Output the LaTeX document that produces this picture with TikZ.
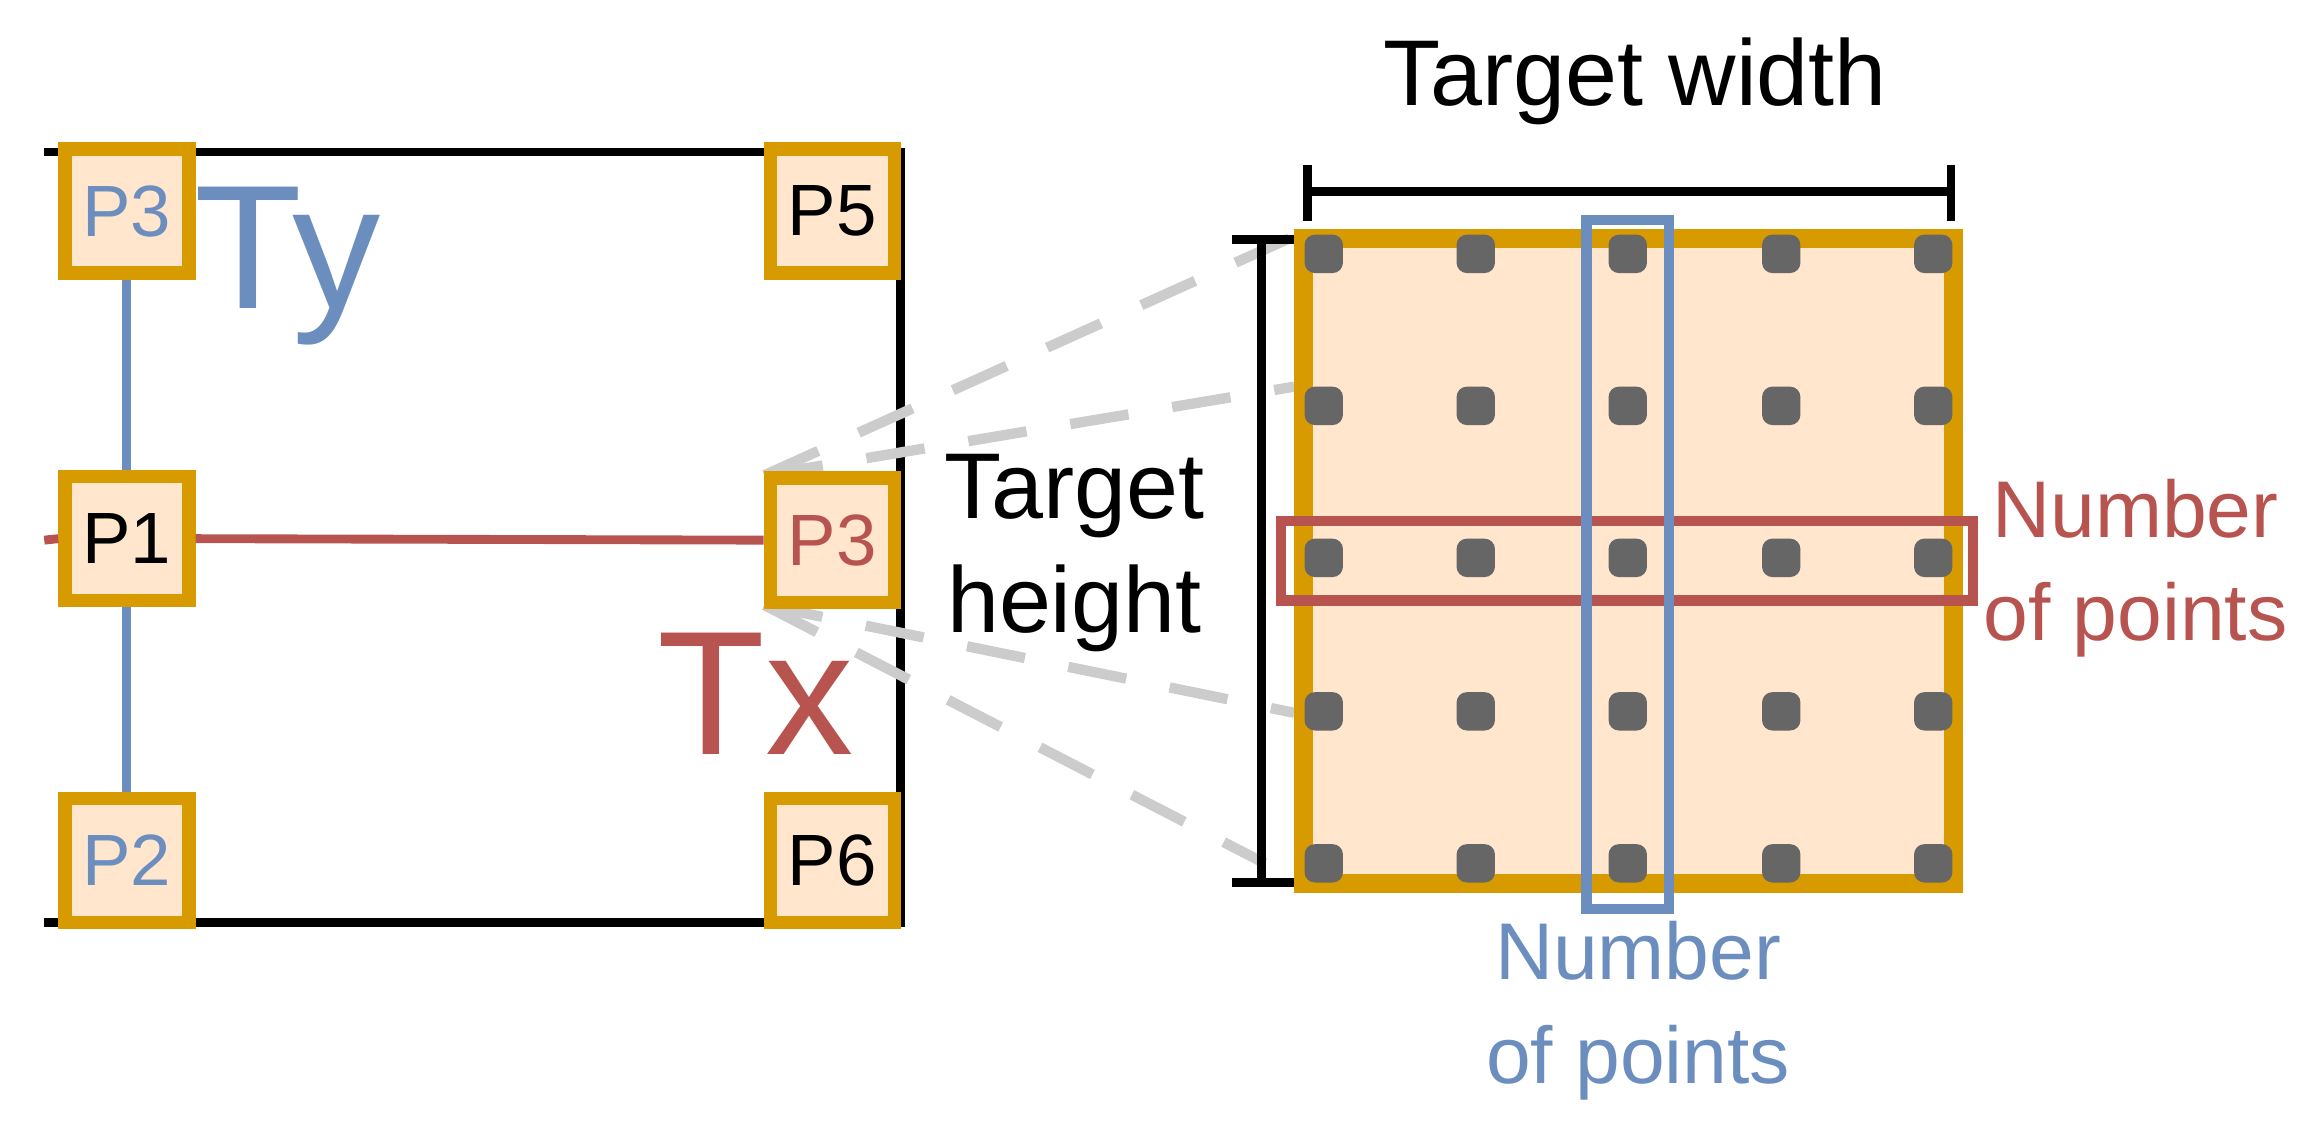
\documentclass[tikz,border=0pt]{standalone}
\usepackage{fontspec}
\setmainfont{Liberation Sans}
\usetikzlibrary{positioning}
\definecolor{ptorange}{HTML}{D79B00}
\definecolor{ptfill}{HTML}{FFE6CC}
\definecolor{tyblue}{HTML}{6C8EBF}
\definecolor{txred}{HTML}{B85450}
\definecolor{dotgray}{HTML}{666666}
\definecolor{dashgray}{HTML}{CCCCCC}
\begin{document}
\begin{tikzpicture}[x=0.01cm, y=-0.01cm,
pt/.style={rectangle,draw=ptorange,fill=ptfill,line width=0.9mm,inner sep=0pt,minimum size=8.4mm,font=\fontsize{14}{14}\selectfont},
frame/.style={line width=0.6mm, black},
dot/.style={rectangle,rounded corners=0.7mm,fill=dotgray,inner sep=0pt,minimum size=2.6mm},
guide/.style={line width=0.7mm, dashgray, dash pattern=on 4mm off 3mm},
scan/.style={line width=0.6mm},
lbl/.style={font=\fontsize{18}{22}\selectfont,align=center},
cnt/.style={font=\fontsize{15.5}{20}\selectfont,align=center}
]
\useasboundingbox (0,0) rectangle (1568,772);
%frame of the left block
\draw[frame] (30,103) -- (610,103) -- (610,625) -- (30,625);

%zoom corners
\coordinate (c1) at (877,160);
\coordinate (c2) at (877,262);
\coordinate (c3) at (877,483);
\coordinate (c4) at (857,585);
\coordinate (g1) at (518,322);
\coordinate (g2) at (518,410);

%zoom guides
\draw[guide] (g1) -- (c1);
\draw[guide] (g1) -- (c2);
\draw[guide] (g2) -- (c3);
\draw[guide] (g2) -- (c4);

%sample points
\node[pt, text=tyblue] (p3t) at (86,143) {P3};
\node[pt] (p1) at (86,365) {P1};
\node[pt, text=tyblue] (p2) at (86,583) {P2};
\node[pt] (p5) at (564,143) {P5};
\node[pt, text=txred] (p3r) at (564,366) {P3};
\node[pt] (p6) at (564,583) {P6};
\coordinate (redin) at (30,366);

%scan lines
\draw[scan, txred] (redin) -- (p1.west);
\draw[scan, txred] (p1.east) -- (p3r.west);
\draw[scan, tyblue] (p3t) -- (p1);
\draw[scan, tyblue] (p1) -- (p2);

\node[font=\fontsize{34}{34}\selectfont, text=tyblue] (ty) at (195,180) {Ty};
\node[font=\fontsize{34}{34}\selectfont, text=txred] (tx) at (512,470) {Tx};

%target grid
\node[rectangle,draw=ptorange,fill=ptfill,line width=1.3mm,minimum width=4.4cm,minimum height=4.37cm,inner sep=0pt] (tgt) at (1103.5,380) {};

\foreach \x [count=\i] in {897,1000,1103,1207,1310}
  \foreach \y [count=\j] in {172,275,378,482,585}
    \node[dot] (d\i\j) at (\x,\y) {};

\draw[txred, line width=0.7mm] (868,353) rectangle (1337,407);
\draw[tyblue, line width=0.7mm] (1075,149) rectangle (1131,616);

%dimension bars
\coordinate (wl) at (886,130);
\coordinate (wr) at (1322,130);
\draw[frame] (wl) -- (wr);
\draw[frame] (886,112) -- (886,150);
\draw[frame] (1322,112) -- (1322,150);
\coordinate (ht) at (855,162);
\coordinate (hb) at (855,598);
\draw[frame] (ht) -- (hb);
\draw[frame] (835,162) -- (877,162);
\draw[frame] (835,598) -- (877,598);

\node[lbl] (tw) at (1108,55) {Target width};
\node[lbl] (th) at (728,375) {Target\\height};
\node[cnt, text=txred] (nr) at (1447,385) {Number\\of points};
\node[cnt, text=tyblue] (nb) at (1110,685) {Number\\of points};
\end{tikzpicture}
\end{document}
